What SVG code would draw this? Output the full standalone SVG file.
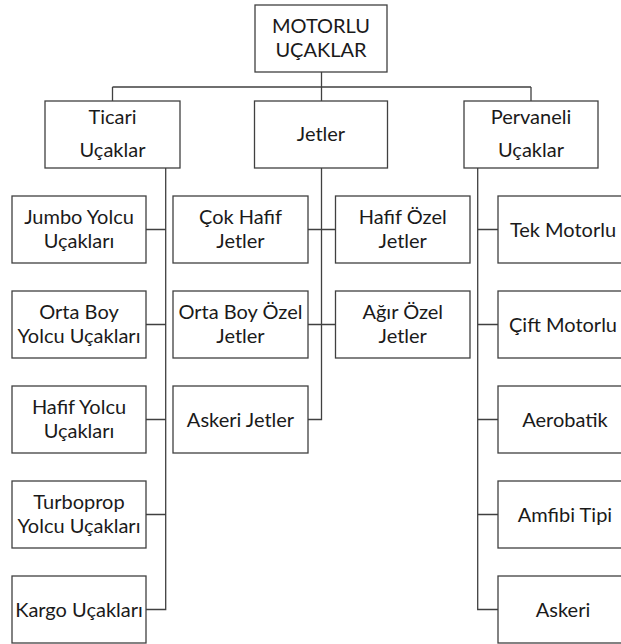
<svg xmlns="http://www.w3.org/2000/svg" width="621" height="644" viewBox="0 0 621 644">
  <style>
    .box { fill: #ffffff; stroke: #404040; stroke-width: 1.3; }
    .wire { fill: none; stroke: #404040; stroke-width: 1.3; }
    text { font-family: Lato, "Open Sans", "Liberation Sans", sans-serif; font-size: 20px; fill: #1a1a1a; text-anchor: middle; }
  </style>
  <rect width="621" height="644" fill="#ffffff"/>

  <!-- connectors -->
  <g id="connectors" class="wire">
    <path d="M321.5 72 V87 M112.5 87 H531 M112.5 87 V101 M321.5 87 V101 M531 87 V101"/>
    <!-- Ticari trunk -->
    <path d="M165.7 168 V609.5 H146 M146 229.5 H165.7 M146 324.5 H165.7 M146 419.5 H165.7 M146 514.5 H165.7"/>
    <!-- Jetler trunk -->
    <path d="M321.5 168 V419.5 H308 M308 229.5 H335.5 M308 324.5 H335.5"/>
    <!-- Pervaneli trunk -->
    <path d="M477.7 168 V609.5 H498 M477.7 229.5 H498 M477.7 324.5 H498 M477.7 419.5 H498 M477.7 514.5 H498"/>
  </g>

  <!-- root -->
  <g id="motorlu">
    <rect class="box" x="255" y="5" width="132" height="67"/>
    <text x="321" y="33">MOTORLU</text>
    <text x="321" y="57">UÇAKLAR</text>
  </g>

  <!-- level 1 -->
  <g id="ticari">
    <rect class="box" x="45" y="101" width="135" height="67"/>
    <text x="112.5" y="124">Ticari</text>
    <text x="112.5" y="157">Uçaklar</text>
  </g>
  <g id="jetler">
    <rect class="box" x="254.5" y="101" width="133" height="67"/>
    <text x="321" y="141">Jetler</text>
  </g>
  <g id="pervaneli">
    <rect class="box" x="464" y="101" width="134" height="67"/>
    <text x="531" y="124">Pervaneli</text>
    <text x="531" y="157">Uçaklar</text>
  </g>

  <!-- Ticari children -->
  <g id="jumbo">
    <rect class="box" x="12" y="196" width="134" height="67"/>
    <text x="79" y="224">Jumbo Yolcu</text>
    <text x="79" y="248">Uçakları</text>
  </g>
  <g id="orta-boy-yolcu">
    <rect class="box" x="12" y="291" width="134" height="67"/>
    <text x="79" y="319">Orta Boy</text>
    <text x="79" y="343">Yolcu Uçakları</text>
  </g>
  <g id="hafif-yolcu">
    <rect class="box" x="12" y="386" width="134" height="67"/>
    <text x="79" y="414">Hafif Yolcu</text>
    <text x="79" y="438">Uçakları</text>
  </g>
  <g id="turboprop">
    <rect class="box" x="12" y="481" width="134" height="67"/>
    <text x="79" y="509">Turboprop</text>
    <text x="79" y="533">Yolcu Uçakları</text>
  </g>
  <g id="kargo">
    <rect class="box" x="12" y="576" width="134" height="67"/>
    <text x="79" y="617">Kargo Uçakları</text>
  </g>

  <!-- Jetler children -->
  <g id="cok-hafif">
    <rect class="box" x="173" y="196" width="135" height="67"/>
    <text x="240.5" y="224">Çok Hafif</text>
    <text x="240.5" y="248">Jetler</text>
  </g>
  <g id="hafif-ozel">
    <rect class="box" x="335.5" y="196" width="134.5" height="67"/>
    <text x="402.75" y="224">Hafif Özel</text>
    <text x="402.75" y="248">Jetler</text>
  </g>
  <g id="orta-boy-ozel">
    <rect class="box" x="173" y="291" width="135" height="67"/>
    <text x="240.5" y="319">Orta Boy Özel</text>
    <text x="240.5" y="343">Jetler</text>
  </g>
  <g id="agir-ozel">
    <rect class="box" x="335.5" y="291" width="134.5" height="67"/>
    <text x="402.75" y="319">Ağır Özel</text>
    <text x="402.75" y="343">Jetler</text>
  </g>
  <g id="askeri-jetler">
    <rect class="box" x="173" y="386" width="135" height="67"/>
    <text x="240.5" y="427">Askeri Jetler</text>
  </g>

  <!-- Pervaneli children -->
  <g id="tek-motorlu">
    <rect class="box" x="498" y="196" width="134" height="67"/>
    <text x="563" y="237">Tek Motorlu</text>
  </g>
  <g id="cift-motorlu">
    <rect class="box" x="498" y="291" width="134" height="67"/>
    <text x="563" y="332">Çift Motorlu</text>
  </g>
  <g id="aerobatik">
    <rect class="box" x="498" y="386" width="134" height="67"/>
    <text x="565" y="427">Aerobatik</text>
  </g>
  <g id="amfibi">
    <rect class="box" x="498" y="481" width="134" height="67"/>
    <text x="565" y="522">Amfibi Tipi</text>
  </g>
  <g id="askeri">
    <rect class="box" x="498" y="576" width="134" height="67"/>
    <text x="563" y="617">Askeri</text>
  </g>
</svg>
